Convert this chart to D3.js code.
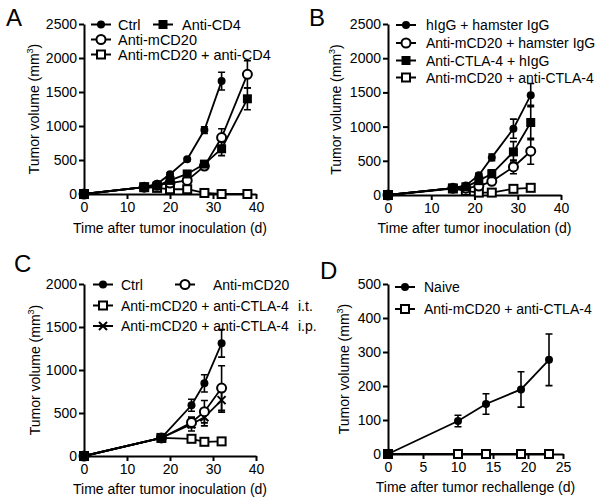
<html>
<head>
<meta charset="UTF-8">
<script src="https://d3js.org/d3.v7.min.js"></script>
<style>
    body { margin: 0; background: #fff; }
    svg { display: block; font-family: "Liberation Sans", Arial, sans-serif; }
</style>
</head>
<body>
<svg width="600" height="502"></svg>
<script>
    // panel A
    const aDays = [0, 14, 17, 20, 24, 28, 32, 38];
    const aCtrl = [0, 100, 150, 290, 510, 940, 1660];
    const aCtrlErr = [0, 10, 15, 20, 20, 50, 130];
    const aCD4 = [0, 100, 120, 200, 295, 440, 665, 1400];
    const aCD4Err = [0, 10, 10, 20, 25, 30, 100, 160];
    const aCD20 = [0, 100, 130, 160, 200, 410, 830, 1760];
    const aCD20Err = [0, 10, 10, 20, 20, 30, 130, 200];
    const aCombo = [0, 100, 90, 70, 70, 15, 0, 0];
    const aComboErr = [0, 10, 10, 10, 10, 5, 0, 0];
    const aYTicks = [0, 500, 1000, 1500, 2000, 2500];
    const aXTicks = [0, 10, 20, 30, 40];

    // panel B
    const bDays = [0, 15, 18, 21, 24, 29, 33];
    const bHIgG = [0, 100, 140, 290, 550, 970, 1460];
    const bHIgGErr = [0, 10, 20, 30, 50, 140, 170];
    const bCD20 = [0, 100, 100, 130, 200, 410, 640];
    const bCD20Err = [0, 10, 10, 20, 30, 100, 190];
    const bCTLA = [0, 100, 120, 210, 310, 630, 1060];
    const bCTLAErr = [0, 10, 15, 30, 60, 150, 250];
    const bCombo = [0, 95, 60, 35, 35, 90, 105];
    const bComboErr = [0, 10, 10, 10, 10, 20, 40];
    const bYTicks = [0, 500, 1000, 1500, 2000, 2500];
    const bXTicks = [0, 10, 20, 30, 40];

    // panel C
    const cDays = [0, 18, 25, 28, 32];
    const cCtrl = [0, 210, 590, 845, 1310];
    const cCtrlErr = [0, 15, 70, 100, 160];
    const cCD20 = [0, 210, 390, 515, 790];
    const cCD20Err = [0, 15, 60, 130, 260];
    const cIT = [0, 210, 200, 165, 170];
    const cITErr = [0, 15, 20, 15, 15];
    const cIP = [0, 210, 370, 450, 650];
    const cIPErr = [0, 15, 80, 100, 140];
    const cYTicks = [0, 500, 1000, 1500, 2000];
    const cXTicks = [0, 10, 20, 30, 40];

    // panel D
    const dDays = [0, 10, 14, 19, 23];
    const dNaive = [0, 97, 147, 190, 277];
    const dNaiveErr = [0, 17, 30, 52, 76];
    const dCombo = [0, 0, 0, 0, 0];
    const dComboErr = [0, 0, 0, 0, 0];
    const dYTicks = [0, 100, 200, 300, 400, 500];
    const dXTicks = [0, 5, 10, 15, 20, 25];

    const svg = d3.select("svg");

    function drawMarker(g, type, x, y) {
        if (type === "fc") {
            g.append("circle").attr("cx", x).attr("cy", y).attr("r", 4).attr("fill", "#000");
        } else if (type === "oc") {
            g.append("circle").attr("cx", x).attr("cy", y).attr("r", 4.5)
                .attr("fill", "#fff").attr("stroke", "#000").attr("stroke-width", 2);
        } else if (type === "fs") {
            g.append("rect").attr("x", x - 4.5).attr("y", y - 4.5).attr("width", 9).attr("height", 9).attr("fill", "#000");
        } else if (type === "os") {
            g.append("rect").attr("x", x - 4).attr("y", y - 4).attr("width", 8).attr("height", 8)
                .attr("fill", "#fff").attr("stroke", "#000").attr("stroke-width", 2);
        } else if (type === "x") {
            g.append("path").attr("d", `M${x-4},${y-4}L${x+4},${y+4}M${x-4},${y+4}L${x+4},${y-4}`)
                .attr("stroke", "#000").attr("stroke-width", 2);
        }
    }

    function drawPanel(p) {
        const g = svg.append("g");
        const x = d3.scaleLinear().domain(p.xDomain).range(p.xRange);
        const y = d3.scaleLinear().domain(p.yDomain).range(p.yRange);

        const xAxis = g.append("g").attr("transform", `translate(0,${p.yRange[0]})`)
            .call(d3.axisBottom(x).tickValues(p.xTicks).tickFormat(d3.format("d"))
                .tickSize(5).tickSizeOuter(0).tickPadding(3));
        const yAxis = g.append("g").attr("transform", `translate(${p.xRange[0]},0)`)
            .call(d3.axisLeft(y).tickValues(p.yTicks).tickFormat(d3.format("d"))
                .tickSize(5).tickSizeOuter(0).tickPadding(2));
        [xAxis, yAxis].forEach(a => {
            a.select(".domain").attr("stroke-width", 2);
            a.selectAll(".tick line").attr("stroke-width", 2);
            a.selectAll("text").attr("font-size", 14).attr("fill", "#000")
                .attr("font-family", "Liberation Sans, Arial, sans-serif");
        });

        const line = d3.line().x(d => x(d[0])).y(d => y(d[1]));
        p.series.forEach(s => {
            const pts = s.vals.map((v, i) => [p.days[i], v, s.err[i]]);
            g.append("path").datum(pts).attr("d", line)
                .attr("fill", "none").attr("stroke", "#000").attr("stroke-width", 1.8);
            pts.forEach(d => {
                if (d[2] > 0) {
                    const cx = x(d[0]), y1 = y(d[1] + d[2]), y2 = y(d[1] - d[2]);
                    g.append("path")
                        .attr("d", `M${cx},${y1}L${cx},${y2}M${cx-3.5},${y1}L${cx+3.5},${y1}M${cx-3.5},${y2}L${cx+3.5},${y2}`)
                        .attr("stroke", "#000").attr("stroke-width", 1.6).attr("fill", "none");
                }
            });
        });
        p.series.forEach(s => {
            s.vals.forEach((v, i) => drawMarker(g, s.marker, x(p.days[i]), y(v)));
        });

        // legend
        p.legend.forEach(l => {
            g.append("line").attr("x1", l.mx - 10).attr("x2", l.mx + 10).attr("y1", l.y).attr("y2", l.y)
                .attr("stroke", "#000").attr("stroke-width", 2);
            drawMarker(g, l.marker, l.mx, l.y);
            g.append("text").attr("x", l.tx).attr("y", l.y + 5).attr("font-size", p.legendSize).text(l.label);
        });
        (p.extra || []).forEach(t => {
            g.append("text").attr("x", t.x).attr("y", t.y).attr("font-size", p.legendSize).text(t.text);
        });

        // titles
        const cy = (p.yRange[0] + p.yRange[1]) / 2;
        const yt = g.append("text").attr("transform", `translate(${p.yTitleX},${cy}) rotate(-90)`)
            .attr("text-anchor", "middle").attr("font-size", 14);
        yt.append("tspan").text("Tumor volume (mm");
        yt.append("tspan").attr("dy", -6).attr("font-size", 9).text("3");
        yt.append("tspan").attr("dy", 6).text(")");
        g.append("text").attr("x", (p.xRange[0] + p.xRange[1]) / 2).attr("y", p.xTitleY)
            .attr("text-anchor", "middle").attr("font-size", 14).text(p.xTitle);
        g.append("text").attr("x", p.letterX).attr("y", p.letterY).attr("font-size", 24).text(p.letter);
    }

    drawPanel({
        letter: "A", letterX: 6, letterY: 26, legendSize: 14.5,
        days: aDays, xDomain: [0, 40], xRange: [84, 256], yDomain: [0, 2500], yRange: [194, 24],
        xTicks: aXTicks, yTicks: aYTicks, yTitleX: 39, xTitleY: 233,
        xTitle: "Time after tumor inoculation (d)",
        series: [
            {vals: aCombo, err: aComboErr, marker: "os"},
            {vals: aCD20, err: aCD20Err, marker: "oc"},
            {vals: aCD4, err: aCD4Err, marker: "fs"},
            {vals: aCtrl, err: aCtrlErr, marker: "fc"}
        ],
        legend: [
            {label: "Ctrl", marker: "fc", mx: 101, tx: 118, y: 24.5},
            {label: "Anti-CD4", marker: "fs", mx: 163, tx: 182, y: 24.5},
            {label: "Anti-mCD20", marker: "oc", mx: 101, tx: 118, y: 39.5},
            {label: "Anti-mCD20 + anti-CD4", marker: "os", mx: 101, tx: 118, y: 54.5}
        ]
    });

    drawPanel({
        letter: "B", letterX: 309, letterY: 26, legendSize: 14,
        days: bDays, xDomain: [0, 40], xRange: [388, 561], yDomain: [0, 2500], yRange: [195, 24],
        xTicks: bXTicks, yTicks: bYTicks, yTitleX: 341, xTitleY: 233,
        xTitle: "Time after tumor inoculation (d)",
        series: [
            {vals: bCombo, err: bComboErr, marker: "os"},
            {vals: bCD20, err: bCD20Err, marker: "oc"},
            {vals: bCTLA, err: bCTLAErr, marker: "fs"},
            {vals: bHIgG, err: bHIgGErr, marker: "fc"}
        ],
        legend: [
            {label: "hIgG + hamster IgG", marker: "fc", mx: 406, tx: 426, y: 25},
            {label: "Anti-mCD20 + hamster IgG", marker: "oc", mx: 406, tx: 426, y: 43},
            {label: "Anti-CTLA-4 + hIgG", marker: "fs", mx: 406, tx: 426, y: 60.5},
            {label: "Anti-mCD20 + anti-CTLA-4", marker: "os", mx: 406, tx: 426, y: 77.5}
        ]
    });

    drawPanel({
        letter: "C", letterX: 14, letterY: 272, legendSize: 14,
        days: cDays, xDomain: [0, 40], xRange: [84, 256], yDomain: [0, 2000], yRange: [456, 284],
        xTicks: cXTicks, yTicks: cYTicks, yTitleX: 40, xTitleY: 494,
        xTitle: "Time after tumor inoculation (d)",
        series: [
            {vals: cIT, err: cITErr, marker: "os"},
            {vals: cIP, err: cIPErr, marker: "x"},
            {vals: cCD20, err: cCD20Err, marker: "oc"},
            {vals: cCtrl, err: cCtrlErr, marker: "fc"}
        ],
        legend: [
            {label: "Ctrl", marker: "fc", mx: 103, tx: 121, y: 284.5},
            {label: "Anti-mCD20", marker: "oc", mx: 185, tx: 213, y: 284.5},
            {label: "Anti-mCD20 + anti-CTLA-4", marker: "os", mx: 103, tx: 121, y: 305.5},
            {label: "Anti-mCD20 + anti-CTLA-4", marker: "x", mx: 103, tx: 121, y: 326}
        ],
        extra: [
            {text: "i.t.", x: 298, y: 310.5},
            {text: "i.p.", x: 298, y: 331}
        ]
    });

    drawPanel({
        letter: "D", letterX: 320, letterY: 279, legendSize: 14,
        days: dDays, xDomain: [0, 25], xRange: [388, 563], yDomain: [0, 500], yRange: [454, 284],
        xTicks: dXTicks, yTicks: dYTicks, yTitleX: 349, xTitleY: 492,
        xTitle: "Time after tumor rechallenge (d)",
        series: [
            {vals: dCombo, err: dComboErr, marker: "os"},
            {vals: dNaive, err: dNaiveErr, marker: "fc"}
        ],
        legend: [
            {label: "Naive", marker: "fc", mx: 405, tx: 424, y: 287},
            {label: "Anti-mCD20 + anti-CTLA-4", marker: "os", mx: 405, tx: 424, y: 309}
        ]
    });
</script>
</body>
</html>
